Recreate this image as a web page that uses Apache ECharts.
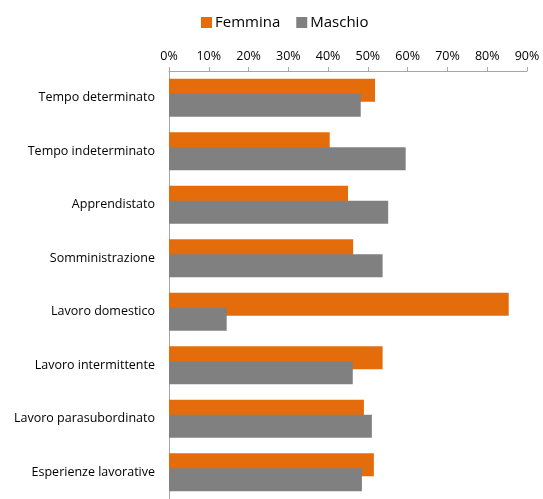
<!DOCTYPE html>
<html><head><meta charset="utf-8">
<script src="https://cdn.jsdelivr.net/npm/echarts@6/dist/echarts.min.js"></script>
<style>html,body{margin:0;padding:0;background:#fff}#c{width:543px;height:499px}</style>
</head><body><div id="c"></div>
<script>
const categories = ["Tempo determinato","Tempo indeterminato","Apprendistato","Somministrazione","Lavoro domestico","Lavoro intermittente","Lavoro parasubordinato","Esperienze lavorative"];
const femmina = [51.8, 40.4, 45.0, 46.3, 85.4, 53.7, 49.0, 51.5];
const maschio = [48.2, 59.5, 55.1, 53.7, 14.5, 46.2, 51.0, 48.5];
const seriesNames = ["Femmina","Maschio"];
const font = "'Open Sans', 'Liberation Sans', sans-serif";
const chart = echarts.init(document.getElementById('c'), null, {renderer:'canvas'});
chart.setOption({
  animation:false,
  legend:{top:10, left:196, itemWidth:11, itemHeight:11, itemGap:16,
    icon:'rect', textStyle:{fontFamily:font, fontSize:15, color:'#000', padding:[0,0,0,-2]},
    data:seriesNames},
  grid:{left:169, top:71, width:358, height:428},
  xAxis:{type:'value', position:'top', min:0, max:90, interval:10,
    axisLabel:{formatter:'{value}%', fontFamily:font, fontSize:12.5, color:'#000', margin:8},
    axisLine:{show:true, lineStyle:{color:'#a6a6a6'}},
    axisTick:{show:true, length:4, lineStyle:{color:'#a6a6a6'}},
    splitLine:{show:false}},
  yAxis:{type:'category', inverse:true, data:categories,
    axisLabel:{fontFamily:font, fontSize:12.5, color:'#000', margin:14},
    axisLine:{lineStyle:{color:'#a6a6a6'}},
    axisTick:{length:5, lineStyle:{color:'#a6a6a6'}}},
  series:[
    {name:seriesNames[0], type:'bar', data:femmina, itemStyle:{color:'#E46C0A'},
     barGap:'-35%', barCategoryGap:'29%'},
    {name:seriesNames[1], type:'bar', data:maschio, itemStyle:{color:'#808080'},
     barGap:'-35%', barCategoryGap:'29%'}
  ]
});
</script></body></html>
